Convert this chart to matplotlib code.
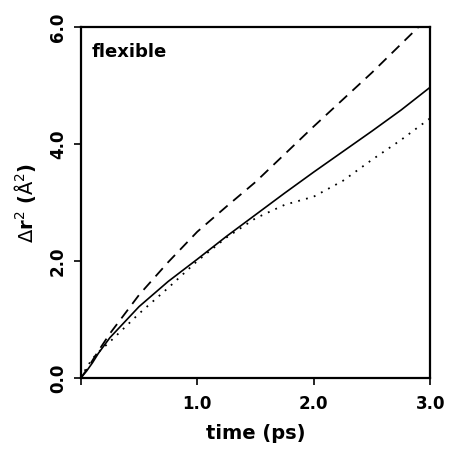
import matplotlib
matplotlib.use("Agg")
import matplotlib.pyplot as plt

# time (ps)
t = [0.0, 0.05, 0.1, 0.15, 0.25, 0.5, 0.75, 1.0, 1.25, 1.5, 1.75, 2.0, 2.25, 2.5, 2.75, 3.0]
solid = [0.0, 0.12, 0.26, 0.42, 0.69, 1.22, 1.65, 2.03, 2.42, 2.79, 3.16, 3.52, 3.87, 4.22, 4.58, 4.97]
dotted = [0.0, 0.18, 0.33, 0.44, 0.62, 1.10, 1.54, 2.00, 2.40, 2.73, 2.96, 3.10, 3.37, 3.73, 4.07, 4.44]

t_dash = [0.0, 0.05, 0.1, 0.15, 0.25, 0.5, 0.75, 1.0, 1.25, 1.5, 2.0, 2.5, 2.9]
dashed = [0.0, 0.14, 0.30, 0.46, 0.76, 1.42, 1.98, 2.50, 2.93, 3.35, 4.30, 5.22, 6.0]

fig = plt.figure(figsize=(4.49, 4.50), dpi=100)
ax = fig.add_axes([0.180, 0.160, 0.778, 0.780])

ax.plot(t, solid, color="black", lw=1.2)
ax.plot(t_dash, dashed, color="black", lw=1.3, dashes=(6, 4))
ax.plot(t, dotted, color="black", lw=1.3, dashes=(1, 3.5))

ax.set_xlim(0, 3.0)
ax.set_ylim(0, 6.0)
ax.set_xticks([0, 1, 2, 3])
ax.set_xticklabels(["", "1.0", "2.0", "3.0"])
ax.set_yticks([0, 2, 4, 6])
ax.set_yticklabels(["0.0", "2.0", "4.0", "6.0"], rotation=90, va="center")

for s in ax.spines.values():
    s.set_linewidth(1.6)
ax.tick_params(direction="out", length=5, width=1.2, labelsize=12)
ax.tick_params(axis="x", pad=7)
ax.tick_params(axis="y", pad=5)

ax.set_xlabel("time (ps)", fontsize=14, fontweight="bold", labelpad=8)
ax.set_ylabel(r"$\Delta$r$^2$ ($\mathrm{\AA}^2$)", fontsize=14, fontweight="bold", labelpad=8)
for lab in ax.get_xticklabels() + ax.get_yticklabels():
    lab.set_fontweight("bold")

ax.text(0.03, 0.955, "flexible", transform=ax.transAxes, fontsize=13,
        fontweight="bold", va="top", ha="left")

fig.savefig("out.png", dpi=100)
